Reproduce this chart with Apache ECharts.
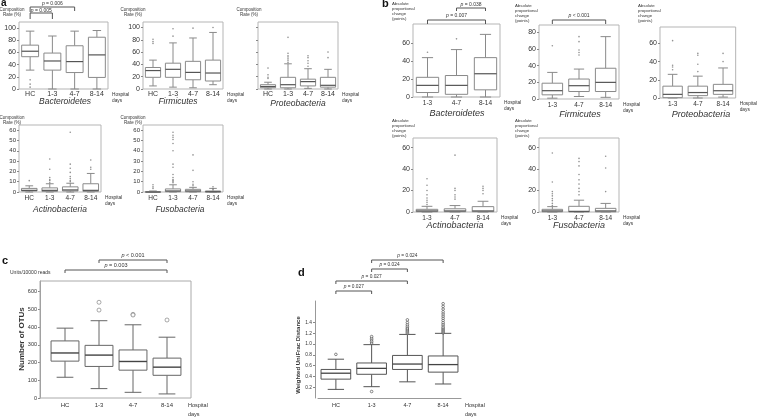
<!DOCTYPE html>
<html><head><meta charset="utf-8">
<script src="https://cdn.jsdelivr.net/npm/echarts@6/dist/echarts.min.js"></script>
<style>html,body{margin:0;padding:0;background:#fff}#c{width:758px;height:419px}</style>
</head><body><div id="c"></div>
<script>
// ---------- categories & tick labels ----------
const catsA = ['HC', '1-3', '4-7', '8-14'];
const catsB = ['1-3', '4-7', '8-14'];
const ticksA100 = [0, 20, 40, 60, 80, 100];
const ticksA60 = [0, 10, 20, 30, 40, 50, 60];
const ticksB60 = [0, 20, 40, 60];
const ticksB80 = [0, 20, 40, 60, 80];
const ticksC = [0, 100, 200, 300, 400, 500, 600];
const ticksD = [0.2, 0.4, 0.6, 0.8, 1.0, 1.2, 1.4];

// ---------- box data: [min, Q1, median, Q3, max] ----------
// a: composition rate (%)
const aBacteroidetes = [[31, 53, 62, 72, 95], [0, 31, 46, 59, 87], [0, 27, 45, 71, 95], [0, 19, 56, 85, 96]];
const aBacteroidetesOut = [[15, 8, 3], [], [], []];
const aFirmicutes = [[5, 19, 30, 35, 47], [3, 19, 32, 42, 75], [2, 15, 27, 45, 83], [7, 13, 26, 47, 92]];
const aFirmicutesOut = [[81, 77, 74], [98, 86], [99], [100]];
const aProteobacteria = [[0, 2, 4, 7, 11], [0, 2, 7, 19, 41], [1, 5, 12, 16, 33], [0, 3, 6, 19, 32]];
const aProteobacteriaOut = [[34, 23, 19, 17], [84, 58, 54, 52, 49, 46, 43], [54, 51, 46, 42, 37], [60, 51]];
const aActinobacteria = [[0, 1, 1.6, 3.5, 6], [0, 0.6, 1.6, 4, 8], [0, 1, 2, 5, 8.5], [0, 0.6, 1.6, 8, 18]];
const aActinobacteriaOut = [[11], [32, 22, 14, 12, 11, 9], [58, 27, 23, 19, 15, 13, 11, 10], [31, 24, 22]];
const aFusobacteria = [[0, 0, 0, 0.3, 1], [0, 0.3, 1, 3, 7], [0, 0.2, 1, 2.6, 4.5], [0, 0, 0.3, 1, 3.5]];
const aFusobacteriaOut = [[7, 5, 3.5], [58, 55, 53, 51, 47, 40, 27, 24, 17, 14, 12, 11, 10, 9], [36, 21, 10, 7.4, 6], [5, 3]];
// b: absolute proportional change (points)
const bBacteroidetes = [[0, 5, 13, 22, 44], [0, 3, 13, 24, 53], [0, 8, 26, 44, 70]];
const bBacteroidetesOut = [[50], [65], []];
const bFirmicutes = [[1, 5, 10, 19, 32], [3, 9, 16, 24, 36], [2, 9, 20, 37, 75]];
const bFirmicutesOut = [[64], [75, 69, 59, 56, 53], []];
const bProteobacteria = [[0, 0.4, 4, 13, 26], [0, 2.6, 6, 13, 24], [1, 4, 8, 15, 33]];
const bProteobacteriaOut = [[63, 36, 34, 31], [49, 47, 37, 29], [49, 40]];
const bActinobacteria = [[0, 0.3, 1, 2.5, 5.3], [0, 0.3, 1, 3, 6], [0, 0.3, 1, 5, 10]];
const bActinobacteriaOut = [[31, 25, 20, 16, 13, 11, 9, 7], [53, 22, 20, 16, 14, 12], [24, 22, 20, 17]];
const bFusobacteria = [[0, 0.2, 1, 2.5, 5], [0, 0.1, 0.6, 5.3, 11], [0, 0.2, 1, 3.4, 8]];
const bFusobacteriaOut = [[55, 28, 19, 17, 15, 12.5, 10.6, 8, 6], [50, 47, 43, 35, 30, 26, 22, 19, 16], [52, 41, 19]];
// c: number of OTUs
const cOTUs = [[117, 208, 254, 322, 394], [53, 178, 242, 297, 436], [32, 157, 206, 271, 413], [23, 128, 174, 225, 343]];
const cOTUsOut = [[], [540, 496], [472, 468], [440]];
// d: weighted UniFrac distance
const dUniFrac = [[0.16, 0.35, 0.46, 0.53, 0.72], [0.21, 0.44, 0.55, 0.65, 0.99], [0.30, 0.53, 0.63, 0.79, 1.18], [0.26, 0.48, 0.62, 0.78, 1.20]];
const dUniFracOut = [
  [0.81],
  [1.02, 1.05, 1.08, 1.11, 1.14, 0.12],
  [1.20, 1.22, 1.24, 1.26, 1.28, 1.30, 1.33, 1.36, 1.40, 1.45],
  [1.21, 1.23, 1.25, 1.27, 1.29, 1.31, 1.34, 1.37, 1.40, 1.44, 1.48, 1.52, 1.56, 1.60, 1.65, 1.70, 1.75]
];

// ---------- layout / styles ----------
const FONT = 'Liberation Sans, Arial, sans-serif';
const TXT = '#333';
const styles = {
  a: {box: '#8a8a8a', med: '#555', mw: 1.2, lw: 1, br: 0.76, cr: 0.5, dot: 1.6, dotColor: '#777', hollow: false},
  b: {box: '#8a8a8a', med: '#555', mw: 1.2, lw: 1, br: 0.77, cr: 0.5, dot: 1.6, dotColor: '#777', hollow: false},
  c: {box: '#666', med: '#444', mw: 1.4, lw: 1, br: 0.82, cr: 0.6, dot: 4, dotColor: '#777', hollow: true},
  d: {box: '#555', med: '#444', mw: 1.3, lw: 1, br: 0.83, cr: 0.55, dot: 2.6, dotColor: '#444', hollow: true}
};
const panels = [
  {g: [19, 22, 89, 67], cats: catsA, box: aBacteroidetes, out: aBacteroidetesOut, ymax: 110, ticks: ticksA100, lf: 7, xf: 7, xm: 2, st: 'a', frame: true},
  {g: [143, 22, 80, 67], cats: catsA, box: aFirmicutes, out: aFirmicutesOut, ymax: 109, ticks: ticksA100, lf: 7, xf: 7, xm: 2, st: 'a', frame: true},
  {g: [258, 22, 80, 67], cats: catsA, box: aProteobacteria, out: aProteobacteriaOut, ymax: 109, ticks: ticksA100, lf: 7, xf: 7, xm: 2, st: 'a', frame: true, noYLabels: true},
  {g: [19, 125, 82, 67], cats: catsA, box: aActinobacteria, out: aActinobacteriaOut, ymax: 65, ticks: ticksA60, lf: 6, xf: 6.5, xm: 3, st: 'a', frame: true},
  {g: [143, 125, 80, 67], cats: catsA, box: aFusobacteria, out: aFusobacteriaOut, ymax: 65, ticks: ticksA60, lf: 6, xf: 6.5, xm: 3, st: 'a', frame: true},
  {g: [413, 24, 87, 73], cats: catsB, box: bBacteroidetes, out: bBacteroidetesOut, ymax: 81.6, ticks: ticksB60, lf: 7, xf: 6.5, xm: 3, st: 'b', frame: true},
  {g: [539, 25, 80, 74], cats: catsB, box: bFirmicutes, out: bFirmicutesOut, ymax: 89, ticks: ticksB80, lf: 7, xf: 6.5, xm: 3, st: 'b', frame: true},
  {g: [660, 27, 83, 71], cats: catsB, box: bProteobacteria, out: bProteobacteriaOut, ymax: 78, ticks: ticksB60, lf: 7, xf: 6.5, xm: 3, st: 'b', frame: true},
  {g: [413, 138, 84, 74], cats: catsB, box: bActinobacteria, out: bActinobacteriaOut, ymax: 69, ticks: ticksB60, lf: 7, xf: 6.5, xm: 3, st: 'b', frame: true},
  {g: [539, 138, 80, 74], cats: catsB, box: bFusobacteria, out: bFusobacteriaOut, ymax: 69, ticks: ticksB60, lf: 7, xf: 6.5, xm: 3, st: 'b', frame: true},
  {g: [48, 281, 136, 117], cats: catsA, box: cOTUs, out: cOTUsOut, ymax: 660, ticks: ticksC, lf: 5.5, xf: 6, xm: 4, st: 'c', frame: false, yoff: 8},
  {g: [318, 301, 143, 102], cats: catsA, box: dUniFrac, out: dUniFracOut, ymax: 1.8, ticks: ticksD, lf: 4.8, xf: 5.5, xm: 4, st: 'd', frame: false, yoff: 3, axes: true, dec: 1}
];

function makeRender(s) {
  return function (params, api) {
    const i = api.value(0);
    const p = k => api.coord([i, api.value(k)]);
    const lo = p(1), q1 = p(2), md = p(3), q3 = p(4), hi = p(5);
    const band = api.size([1, 0])[0];
    const hw = band * s.br / 2, cw = hw * s.cr, x = lo[0];
    const st = {stroke: s.box, lineWidth: s.lw, fill: null};
    return {type: 'group', children: [
      {type: 'line', shape: {x1: x, y1: lo[1], x2: x, y2: q1[1]}, style: st},
      {type: 'line', shape: {x1: x, y1: q3[1], x2: x, y2: hi[1]}, style: st},
      {type: 'line', shape: {x1: x - cw, y1: lo[1], x2: x + cw, y2: lo[1]}, style: st},
      {type: 'line', shape: {x1: x - cw, y1: hi[1], x2: x + cw, y2: hi[1]}, style: st},
      {type: 'rect', shape: {x: x - hw, y: q3[1], width: 2 * hw, height: Math.max(q1[1] - q3[1], 0.5)}, style: {stroke: s.box, lineWidth: s.lw, fill: '#fff'}},
      {type: 'line', shape: {x1: x - hw, y1: md[1], x2: x + hw, y2: md[1]}, style: {stroke: s.med, lineWidth: s.mw}}
    ]};
  };
}

const grid = [], xAxis = [], yAxis = [], series = [];
panels.forEach((P, gi) => {
  const s = styles[P.st];
  const big = P.st === 'c' || P.st === 'd';
  grid.push({left: P.g[0], top: P.g[1], width: P.g[2], height: P.g[3], show: P.frame,
    borderColor: '#b5b5b5', borderWidth: 1, backgroundColor: 'transparent'});
  xAxis.push({type: 'category', gridIndex: gi, data: P.cats,
    axisLine: {show: !!P.axes, lineStyle: {color: '#999'}}, axisTick: {show: false},
    axisLabel: {fontSize: P.xf, color: TXT, margin: P.xm, fontFamily: FONT},
    name: 'Hospital\ndays', nameLocation: 'end', nameGap: 4,
    nameTextStyle: {fontSize: big ? 5.5 : 4.8, color: TXT, fontFamily: FONT, align: 'left', verticalAlign: 'top', lineHeight: big ? 9 : 6, padding: [3, 0, 0, 0]}});
  yAxis.push({type: 'value', gridIndex: gi, min: 0, max: P.ymax, offset: P.yoff || 0,
    axisLine: {show: !!P.axes || P.st === 'c', lineStyle: {color: '#999'}},
    axisTick: {show: true, length: 2, lineStyle: {color: '#888'}, customValues: P.ticks},
    splitLine: {show: false},
    axisLabel: {show: !P.noYLabels, fontSize: P.lf, color: TXT, margin: 3, fontFamily: FONT, customValues: P.ticks,
      formatter: v => P.dec ? v.toFixed(P.dec) : String(v)}});
  series.push({type: 'custom', xAxisIndex: gi, yAxisIndex: gi, renderItem: makeRender(s),
    encode: {x: 0, y: [1, 2, 3, 4, 5]}, data: P.box.map((b, i) => [i].concat(b)), silent: true, z: 2});
  const pts = [];
  P.out.forEach((arr, i) => arr.forEach(v => pts.push([i, v])));
  series.push({type: 'scatter', xAxisIndex: gi, yAxisIndex: gi, data: pts, symbol: 'circle', symbolSize: s.dot,
    itemStyle: s.hollow ? {color: '#fff', borderColor: s.dotColor, borderWidth: 0.8} : {color: s.dotColor},
    silent: true, z: 3});
});

const chart = echarts.init(document.getElementById('c'), null, {renderer: 'canvas'});
chart.setOption({animation: false, grid, xAxis, yAxis, series});

// ---------- annotations ----------
const G = [];
function txt(x, y, text, o) {
  o = o || {};
  G.push({type: 'text', x, y, rotation: o.rot || 0, z: 10, style: {text, fill: o.color || TXT,
    fontStyle: o.it ? 'italic' : 'normal', fontWeight: o.fw || 'normal', fontSize: o.fs || 5, fontFamily: FONT,
    align: o.align || 'left', verticalAlign: o.va || 'middle', lineHeight: o.lh}});
}
function ptxt(x, y, val, fs) {
  G.push({type: 'text', x, y, z: 10, style: {text: '{i|p} ' + val, fill: TXT, fontSize: fs, fontFamily: FONT,
    align: 'center', verticalAlign: 'middle', rich: {i: {fontStyle: 'italic', fontSize: fs, fontFamily: FONT, fill: TXT}}}});
}
function bracket(gi, c1, c2, y, d1, d2, val, ty, fs) {
  const x1 = chart.convertToPixel({xAxisIndex: gi}, c1);
  const x2 = chart.convertToPixel({xAxisIndex: gi}, c2);
  G.push({type: 'polyline', z: 10, shape: {points: [[x1, y + d1], [x1, y], [x2, y], [x2, y + d2]]}, style: {stroke: '#555', lineWidth: 1, fill: null}});
  ptxt((x1 + x2) / 2, ty, val, fs);
}
// panel letters
txt(1, 3.5, 'a', {fs: 10, fw: 'bold', color: '#111'});
txt(382, 4, 'b', {fs: 11, fw: 'bold', color: '#111'});
txt(2, 261, 'c', {fs: 11, fw: 'bold', color: '#111'});
txt(298, 273, 'd', {fs: 11, fw: 'bold', color: '#111'});
// a axis names
[[12, 12], [133, 12], [249, 12], [12, 120], [133, 120]].forEach(p => txt(p[0], p[1], 'Composition\nRate (%)', {fs: 4.5, align: 'center', lh: 5}));
// b axis names
[[392, 11], [515, 13], [638, 13], [392, 128], [515, 128]].forEach(p => txt(p[0], p[1], 'Absolute\nproportional\nchange\n(points)', {fs: 4.3, lh: 5}));
// titles
[[65, 102, 'Bacteroidetes'], [178, 102, 'Firmicutes'], [298, 104, 'Proteobacteria'], [60, 210, 'Actinobacteria'], [180, 210, 'Fusobacteria']]
  .forEach(t => txt(t[0], t[1], t[2], {fs: 8.5, it: true, align: 'center'}));
[[457, 113, 'Bacteroidetes'], [580, 114, 'Firmicutes'], [701, 114, 'Proteobacteria'], [455, 225, 'Actinobacteria'], [579, 225, 'Fusobacteria']]
  .forEach(t => txt(t[0], t[1], t[2], {fs: 9, it: true, align: 'center'}));
// c / d axis names
txt(10, 273, 'Units/10000 reads', {fs: 5});
txt(22, 339, 'Number of OTUs', {fs: 8, fw: 'bold', align: 'center', rot: Math.PI / 2});
txt(298, 355, 'Weighted UniFrac Distance', {fs: 6, fw: 'bold', align: 'center', rot: Math.PI / 2});
G.push({type: 'rect', z: 1, shape: {x: 40, y: 281, width: 151, height: 117}, style: {stroke: '#aaa', lineWidth: 1, fill: null}});
// p-value brackets
bracket(0, 'HC', '4-7', 7, 5, 4, '= 0.006', 4, 5);
bracket(0, 'HC', '1-3', 13, 6, 6, '= 0.005', 10.5, 5);
bracket(5, '4-7', '8-14', 8, 3, 3, '= 0.038', 5, 5);
bracket(5, '1-3', '8-14', 20, 4, 4, '= 0.007', 16, 5);
bracket(6, '1-3', '8-14', 20, 4, 4, '< 0.001', 16, 5);
bracket(10, '1-3', '8-14', 260, 3, 3, '< 0.001', 255, 5.5);
bracket(10, 'HC', '8-14', 270, 3, 3, '= 0.003', 265, 5.5);
bracket(11, '1-3', '8-14', 260, 3, 3, '= 0.024', 256, 4.8);
bracket(11, '1-3', '4-7', 269, 3, 3, '= 0.024', 265, 4.8);
bracket(11, 'HC', '4-7', 281, 3, 3, '= 0.027', 277, 4.8);
bracket(11, 'HC', '1-3', 291, 3, 3, '= 0.027', 287, 4.8);
chart.setOption({graphic: G});
</script></body></html>
